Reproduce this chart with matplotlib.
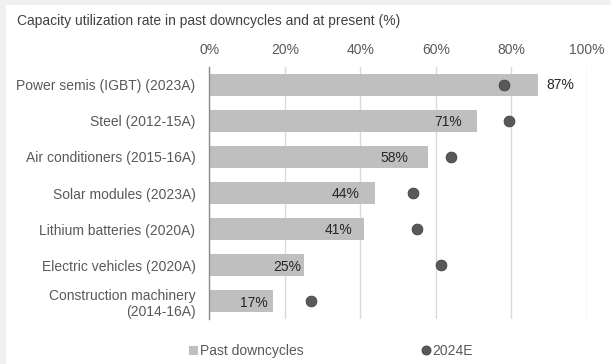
import matplotlib.pyplot as plt
from matplotlib.lines import Line2D
from matplotlib.patches import Patch

plt.rcParams['font.family'] = ['Liberation Sans', 'DejaVu Sans']

industries = ['Power semis (IGBT) (2023A)', 'Steel (2012-15A)',
              'Air conditioners (2015-16A)', 'Solar modules (2023A)',
              'Lithium batteries (2020A)', 'Electric vehicles (2020A)',
              'Construction machinery\n(2014-16A)']
past_downcycles = [87, 71, 58, 44, 41, 25, 17]
current_2024e = [78, 79.5, 64, 54, 55, 61.5, 27]

bar_color = '#bfbfbf'
dot_color = '#595959'
text_color = '#595959'
# gap (points) between a bar's end and its value label
label_gap = [6.5, -11, -14, -11.5, -8.5, -1.5, -4.3]

fig = plt.figure(figsize=(6.11, 3.64), dpi=100)
fig.patch.set_facecolor('#f0f0f2')
# white panel, leaving a thin grey strip on the left and top
fig.patches.append(plt.Rectangle((6 / 611, 0), 1, 1 - 5 / 364,
                                 transform=fig.transFigure,
                                 facecolor='white', edgecolor='none', zorder=-5))

ax = fig.add_axes([209.3 / 611, 1 - 319.3 / 364, 377.5 / 611, (319.3 - 66.7) / 364])
ax.set_facecolor('none')

y = list(range(len(industries)))
ax.barh(y, past_downcycles, height=0.62, color=bar_color, zorder=2)
ax.scatter(current_2024e, y, s=60, color=dot_color, edgecolor='#404040',
           linewidth=0.6, zorder=3)

for i, v in enumerate(past_downcycles):
    gap = label_gap[i]
    ax.annotate(f'{v}%', (v, i), xytext=(gap, 0 if gap > 0 else -1),
                textcoords='offset points', ha='left' if gap > 0 else 'right',
                va='center', fontsize=10, color='#262626')

ax.set_xlim(0, 100)
ax.set_ylim(len(industries) - 0.5, -0.5)
ax.set_xticks(range(0, 101, 20))
ax.set_xticklabels([f'{t}%' for t in range(0, 101, 20)])
ax.xaxis.tick_top()
ax.set_yticks(y)
ax.set_yticklabels(industries, ha='right')
ax.tick_params(axis='both', length=0, labelsize=10, labelcolor=text_color)
ax.tick_params(axis='x', pad=7)
ax.tick_params(axis='y', pad=10)
for lbl in ax.get_yticklabels():
    lbl.set_multialignment('right')

ax.grid(axis='x', color='#d9d9d9', linewidth=1, zorder=0)
ax.set_axisbelow(True)
for side in ['top', 'right', 'bottom']:
    ax.spines[side].set_visible(False)
ax.spines['left'].set_color('#8c8c8c')
ax.spines['left'].set_linewidth(1)

fig.text(17 / 611, 1 - 20.5 / 364, 'Capacity utilization rate in past downcycles and at present (%)',
         fontsize=10, color='#404040', ha='left', va='center')

handles = [Patch(facecolor=bar_color, edgecolor='none', label='Past downcycles'),
           Line2D([], [], marker='o', linestyle='none', markersize=6.5,
                  markerfacecolor=dot_color, markeredgecolor='#404040',
                  markeredgewidth=0.6, label='2024E')]
fig.legend(handles=handles, loc='center', bbox_to_anchor=(0.5415, 1 - 351 / 364),
           ncol=2, frameon=False, fontsize=10, labelcolor=text_color,
           handlelength=0.6, handleheight=0.6, handletextpad=0.15,
           columnspacing=8.5)

fig.savefig('out.png', dpi=100)
